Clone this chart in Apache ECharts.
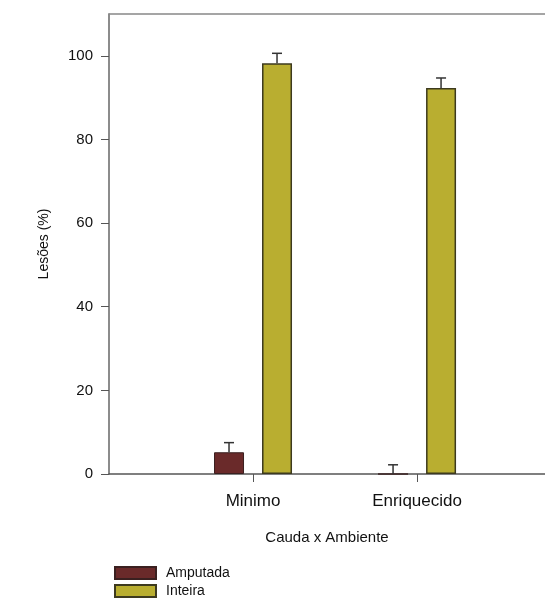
<!DOCTYPE html>
<html>
<head>
<meta charset="utf-8">
<script src="https://cdn.jsdelivr.net/npm/echarts@6/dist/echarts.min.js"></script>
<style>
html, body { margin: 0; padding: 0; background: #fff; }
#chart { width: 545px; height: 606px; }
</style>
</head>
<body>
<div id="chart"></div>
<script>
// dados
var categories = ['Minimo', 'Enriquecido'];
var amputada = [5.2, 0];
var amputadaErr = [2.3, 2.2];
var inteira = [98.2, 92.3];
var inteiraErr = [2.4, 2.4];
var yTicks = [0, 20, 40, 60, 80, 100];

var barW = 30;
var gap = 0.6;
var shift = barW * (1 + gap) / 2;
var font = 'Liberation Sans, Arial, sans-serif';

function pairs(vals) {
    return vals.map(function (v, i) { return [i + 1, v]; });
}
function errPairs(vals, errs) {
    return vals.map(function (v, i) { return [i + 1, v, errs[i]]; });
}
// barra de erro so para cima
function errRender(dx) {
    return function (params, api) {
        var p0 = api.coord([api.value(0), api.value(1)]);
        var p1 = api.coord([api.value(0), api.value(1) + api.value(2)]);
        var x = p0[0] + dx;
        var st = { stroke: '#333', lineWidth: 1.5 };
        return {
            type: 'group',
            children: [
                { type: 'line', shape: { x1: x, y1: p0[1], x2: x, y2: p1[1] }, style: st },
                { type: 'line', shape: { x1: x - 5, y1: p1[1], x2: x + 5, y2: p1[1] }, style: st }
            ]
        };
    };
}

var chart = echarts.init(document.getElementById('chart'));
chart.setOption({
    animation: false,
    textStyle: { fontFamily: font },
    grid: { left: 109, right: 0, top: 14, bottom: 132 },
    legend: {
        data: ['Amputada', 'Inteira'],
        orient: 'vertical',
        left: 114,
        top: 566,
        padding: 0,
        itemWidth: 41,
        itemHeight: 12,
        itemGap: 4,
        icon: 'rect',
        textStyle: { fontSize: 14, lineHeight: 14, color: '#111', fontFamily: font, padding: [0, 0, 0, 5] }
    },
    xAxis: [{
        type: 'value',
        min: 0.122,
        max: 2.78,
        splitLine: { show: false },
        axisLine: { lineStyle: { color: '#555', width: 1.5 } },
        axisTick: { customValues: [1, 2], length: 8, lineStyle: { color: '#555' } },
        axisLabel: {
            customValues: [1, 2],
            formatter: function (v) { return categories[Math.round(v) - 1]; },
            fontSize: 17, color: '#111', margin: 19
        },
        name: 'Cauda x Ambiente',
        nameLocation: 'middle',
        nameGap: 56,
        nameTextStyle: { fontSize: 15, color: '#111' }
    }, {
        type: 'value',
        position: 'top',
        min: 0.122,
        max: 2.78,
        splitLine: { show: false },
        axisLine: { show: true, lineStyle: { color: '#888', width: 1.5 } },
        axisTick: { show: false },
        axisLabel: { show: false }
    }],
    yAxis: {
        type: 'value',
        min: 0,
        max: 110,
        splitLine: { show: false },
        axisLine: { show: true, lineStyle: { color: '#666', width: 1.5 } },
        axisTick: { show: true, customValues: yTicks, length: 8, lineStyle: { color: '#555' } },
        axisLabel: { customValues: yTicks, fontSize: 15, color: '#111', margin: 16 },
        name: 'Lesões (%)',
        nameLocation: 'middle',
        nameRotate: 90,
        nameGap: 58,
        nameTextStyle: { fontSize: 14, color: '#111' }
    },
    series: [{
        name: 'Amputada',
        type: 'bar',
        data: pairs(amputada),
        barWidth: barW,
        barGap: (gap * 100) + '%',
        itemStyle: { color: '#6a2a2a', borderColor: '#3a2020', borderWidth: 1 }
    }, {
        name: 'Inteira',
        type: 'bar',
        data: pairs(inteira),
        barWidth: barW,
        barGap: (gap * 100) + '%',
        itemStyle: { color: '#b9ae30', borderColor: '#3d3a1e', borderWidth: 1.5 }
    }, {
        type: 'custom',
        data: errPairs(amputada, amputadaErr),
        renderItem: errRender(-shift),
        z: 3
    }, {
        type: 'custom',
        data: errPairs(inteira, inteiraErr),
        renderItem: errRender(shift),
        z: 3
    }]
});
</script>
</body>
</html>
